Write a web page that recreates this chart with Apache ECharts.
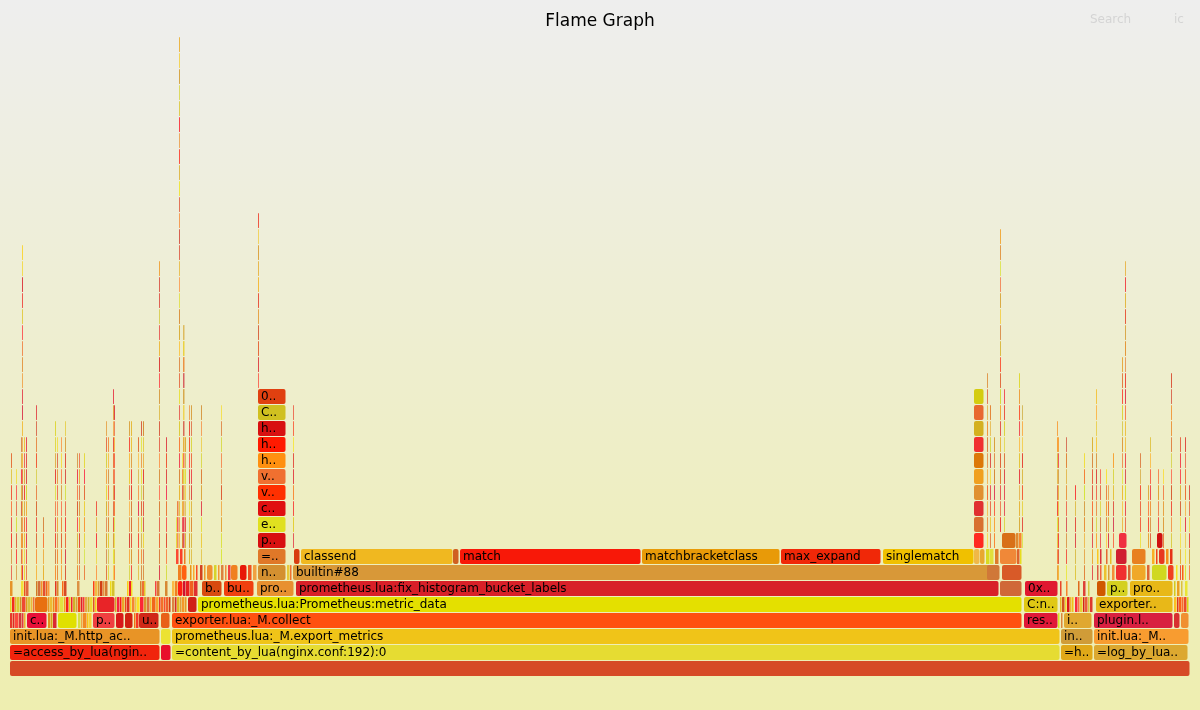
<!DOCTYPE html>
<html><head><meta charset="utf-8">
<script src="https://cdn.jsdelivr.net/npm/echarts@6/dist/echarts.min.js"></script>
<style>html,body{margin:0;padding:0;background:#eee}#c{width:1200px;height:710px}</style>
</head><body><div id="c"></div>
<script>
// Named / coloured frames: [label, startSample, widthSamples, depth]
const frames = [
  ["", 0, 1180, 0],
  ["=access_by_lua(ngin..", 0, 150, 1],
  ["", 151, 10, 1],
  ["=content_by_lua(nginx.conf:192):0", 162, 888, 1],
  ["=h..", 1051, 32, 1],
  ["=log_by_lua..", 1084, 94, 1],
  ["init.lua:_M.http_ac..", 0, 150, 2],
  ["", 151, 10, 2],
  ["prometheus.lua:_M.export_metrics", 162, 888, 2],
  ["in..", 1051, 32, 2],
  ["init.lua:_M..", 1084, 95, 2],
  ["c..", 17, 20, 3],
  ["", 48, 19, 3],
  ["p..", 83, 22, 3],
  ["", 106, 8, 3],
  ["", 115, 8, 3],
  ["u..", 129, 20, 3],
  ["", 151, 9, 3],
  ["exporter.lua:_M.collect", 162, 850, 3],
  ["res..", 1014, 34, 3],
  ["i..", 1054, 28, 3],
  ["plugin.l..", 1084, 79, 3],
  ["", 1164, 6, 3],
  ["", 1171, 8, 3],
  ["", 25, 13, 4],
  ["", 87, 18, 4],
  ["", 178, 9, 4],
  ["prometheus.lua:Prometheus:metric_data", 188, 824, 4],
  ["C:n..", 1014, 34, 4],
  ["exporter..", 1086, 77, 4],
  ["", 165, 3, 5],
  ["", 168, 5, 5],
  ["", 173, 3, 5],
  ["", 176, 4, 5],
  ["", 180, 4, 5],
  ["", 184, 4, 5],
  ["b..", 192, 20, 5],
  ["bu..", 214, 30, 5],
  ["pro..", 247, 37, 5],
  ["prometheus.lua:fix_histogram_bucket_labels", 286, 703, 5],
  ["", 990, 22, 5],
  ["0x..", 1015, 33, 5],
  ["", 1087, 9, 5],
  ["p..", 1097, 21, 5],
  ["pro..", 1120, 43, 5],
  ["", 168, 4, 6],
  ["", 172, 5, 6],
  ["", 197, 6, 6],
  ["", 221, 7, 6],
  ["", 230, 7, 6],
  ["", 238, 4, 6],
  ["", 243, 4, 6],
  ["n..", 248, 28, 6],
  ["", 277, 3, 6],
  ["", 280, 2, 6],
  ["builtin#88", 283, 703, 6],
  ["", 977, 13, 6],
  ["", 992, 20, 6],
  ["", 1106, 11, 6],
  ["", 1122, 14, 6],
  ["", 1142, 15, 6],
  ["", 1158, 6, 6],
  ["=..", 248, 28, 7],
  ["", 284, 6, 7],
  ["classend", 291, 152, 7],
  ["", 443, 6, 7],
  ["match", 450, 181, 7],
  ["matchbracketclass", 632, 138, 7],
  ["max_expand", 771, 100, 7],
  ["singlematch", 873, 91, 7],
  ["", 964, 6, 7],
  ["", 970, 5, 7],
  ["", 990, 17, 7],
  ["", 1106, 11, 7],
  ["", 1122, 14, 7],
  ["", 1149, 6, 7],
  ["p..", 248, 28, 8],
  ["", 964, 10, 8],
  ["", 992, 14, 8],
  ["", 1109, 8, 8],
  ["", 1147, 6, 8],
  ["e..", 248, 28, 9],
  ["c..", 248, 28, 10],
  ["v..", 248, 28, 11],
  ["v..", 248, 28, 12],
  ["h..", 248, 28, 13],
  ["h..", 248, 28, 14],
  ["h..", 248, 28, 15],
  ["C..", 248, 28, 16],
  ["0..", 248, 28, 17],
  ["", 964, 10, 9],
  ["", 964, 10, 10],
  ["", 964, 10, 11],
  ["", 964, 10, 12],
  ["", 964, 10, 13],
  ["", 964, 10, 14],
  ["", 964, 10, 15],
  ["", 964, 10, 16],
  ["", 964, 10, 17]
];
const frameColors = [
  "#d64a26",
  "#f0240c","#e8102a","#e6dc32","#e0a818","#dca830",
  "#e89426","#ece232","#f0c418","#d09c38","#f89c30",
  "#e81038","#e0e000","#f04040","#d81818","#d02010","#d02818","#e86018","#ff5010","#e01838","#e0a830","#d82040","#d83030","#f09030",
  "#e87010","#e82428","#d02018","#e4e000","#e0c814","#e8b818",
  "#f08020","#ff2010","#d01030","#e82020","#f06020","#e03030","#d84a10","#f04010","#e89030","#d82028","#d06838","#e01830","#d05800","#d4d020","#e8b818",
  "#f08020","#ff6010","#f09030","#f08020","#e81808","#f05020","#f0a040","#d49030","#e8c838","#f07030","#d89838","#d07838","#d85a28","#f03030","#f0a828","#d0d820","#f04020",
  "#e07828","#d83c10","#f0b820","#d06020","#f81808","#e89a08","#f02808","#f0c000","#f0b848","#e8a830","#f08838","#d02030","#e88020","#e83820",
  "#d81010","#ff2a20","#d87018","#f03040","#d01010",
  "#e0e020","#e01010","#ff3000","#f07030","#ff9010","#ff1a00","#d81010","#d0c020","#e04010",
  "#d87030","#e03030","#e09030","#f0a020","#dc7808","#f03030","#d4b020","#e86830","#d4cc10"
];
// Narrow unlabelled frames: [startSample, widthSamples, depth]
const smallFrames = [
  [0,3,3],[3,2,3],[5,4,3],[9,3,3],[12,2,3],[14,2,3],[38,3,3],[41,2,3],[43,4,3],
  [68,3,3],[71,2,3],[73,4,3],[77,2,3],[79,3,3],[124,2,3],[126,3,3],[1048,2,3],[1051,2,3],
  [0,2,4],[2,3,4],[5,2,4],[7,3,4],[10,2,4],[12,4,4],[16,2,4],[18,3,4],[21,2,4],[23,2,4],
  [38,2,4],[40,3,4],[43,2,4],[45,3,4],[48,2,4],[50,4,4],[54,2,4],[56,3,4],[59,2,4],[61,2,4],
  [63,3,4],[66,2,4],[68,3,4],[71,2,4],[73,2,4],[75,3,4],[78,2,4],[80,3,4],[83,2,4],[85,2,4],
  [105,2,4],[107,3,4],[110,2,4],[112,3,4],[115,2,4],[117,3,4],[120,2,4],[122,3,4],[125,2,4],
  [127,3,4],[130,4,4],[134,3,4],[137,3,4],[140,2,4],[142,4,4],[146,3,4],[149,2,4],[151,3,4],
  [154,2,4],[156,3,4],[159,2,4],[162,3,4],[165,2,4],[167,3,4],[170,2,4],[172,3,4],[175,2,4],
  [1050,2,4],[1052,3,4],[1055,2,4],[1057,3,4],[1060,2,4],[1062,2,4],[1065,3,4],[1068,2,4],
  [1070,3,4],[1073,2,4],[1075,3,4],[1078,2,4],[1080,3,4],
  [1164,3,4],[1167,2,4],[1169,3,4],[1172,2,4],[1174,3,4],[1177,2,4],
  [0,3,5],[11,3,5],[14,2,5],[16,3,5],[26,2,5],[28,3,5],[31,2,5],[33,3,5],[36,2,5],[38,2,5],
  [45,2,5],[47,2,5],[52,2,5],[54,3,5],[67,3,5],[83,2,5],[85,3,5],[88,2,5],[90,3,5],[93,2,5],
  [95,3,5],[100,2,5],[102,3,5],[117,2,5],[119,3,5],[121,2,5],[130,2,5],[132,3,5],[134,2,5],
  [145,2,5],[147,3,5],[155,3,5],[162,3,5],
  [1050,2,5],[1056,2,5],[1068,2,5],[1073,3,5],[1078,2,5],[1164,2,5],[1167,3,5],[1171,2,5],[1175,3,5],
  [180,2,6],[183,2,6],[186,2,6],[190,3,6],[194,2,6],[204,3,6],[208,2,6],[211,3,6],[215,2,6],[218,3,6],
  [1087,2,6],[1090,2,6],[1094,3,6],[1098,2,6],[1102,3,6],[1118,3,6],[1137,3,6],[1166,2,6],[1172,2,6],
  [166,3,7],[170,3,7],[174,2,7],[976,4,7],[980,4,7],[985,4,7],[1007,3,7],[1010,2,7],
  [1087,2,7],[1090,2,7],[1096,2,7],[1100,2,7],[1142,3,7],[1146,2,7],[1156,3,7],[1160,3,7],
  [1006,3,8],[1009,3,8]
];
// Thin stacks of frames: [startSample, widthSamples, fromDepth, toDepth]
const towers = [
  [1,1.5,6,13],[6,1.5,6,12],[11,1.5,6,14],[12,1.5,6,26],[14,1.5,6,14],[16,1.5,6,14],[26,1.5,6,16],
  [33,1.5,6,9],[45,1.5,6,15],[47,1.5,6,14],[51,1.5,6,14],[55,1.5,6,15],[67,1.5,6,13],[69,1.5,6,13],
  [74,1.5,6,13],[86,1.5,6,10],[96,1.5,6,15],[98,1.5,6,14],[103,1.5,6,17],[104,1.5,6,16],[119,1.5,6,15],
  [121,1.5,6,15],[128,1.5,6,14],[131,1.5,6,15],[133,1.5,6,15],[149,1.5,6,25],[156,1.5,6,14],
  [166,1.5,8,9],[167,2,8,10],[169,1.5,8,39],[172,1.5,8,13],[173,2,8,21],[175,1.5,8,14],
  [179,1.5,7,16],[181,1.5,7,16],[191,1.5,7,16],[211,1.5,7,16],[248,1.5,18,28],[283,1.5,8,16],
  [977,1.5,8,18],[980,1.5,8,16],[984,1.5,8,14],[990,1.5,9,27],[994,1.5,9,17],[1009,1.5,9,18],
  [1012,1.5,8,16],[1047,1.5,6,15],[1048,1.5,6,14],[1056,1.5,6,14],[1065,1.5,6,11],[1074,1.5,6,13],
  [1082,1.5,6,14],[1086,1.5,8,17],[1090,1.5,8,12],[1096,1.5,8,12],[1098,1.5,8,11],[1103,1.5,8,13],
  [1112,1.5,9,19],[1115,1.5,9,25],[1130,1.5,8,13],[1138,1.5,8,11],[1140,1.5,8,14],[1148,1.5,9,12],
  [1153,1.5,8,12],[1161,1.5,8,18],[1170,1.5,6,14],[1175,1.5,6,14],[1179,1.5,6,11]
];
const TOTAL = 1180, MAXDEPTH = 40;

// deterministic "hot" palette colour for unnamed narrow frames
function hot(a, b) {
  const f = (k) => { const h = Math.sin(a * 12.9898 + b * 78.233 + k * 37.719) * 43758.5453; return h - Math.floor(h); };
  const r = 205 + Math.round(50 * f(1)), g = Math.round(230 * f(2)), bl = Math.round(55 * f(3));
  return 'rgb(' + r + ',' + g + ',' + bl + ')';
}

const items = [];
frames.forEach((f, i) => items.push({ value: [f[1], f[2], f[3]], label: f[0], color: frameColors[i], op: 1 }));
smallFrames.forEach(f => items.push({ value: [f[0], f[1], f[2]], label: '', color: hot(f[0], f[2]), op: 0.9 }));
towers.forEach(t => { for (let d = t[2]; d <= t[3]; d++) items.push({ value: [t[0], t[1], d], label: '', color: hot(t[0] + 0.5, d), op: 0.72 }); });

function renderItem(params, api) {
  const it = items[params.dataIndex];
  const s = api.value(0), w = api.value(1), d = api.value(2);
  const a = api.coord([s, d + 1]);
  const b = api.coord([s + w, d]);
  const x = a[0], y = a[1];
  const width = Math.max(b[0] - a[0] - 0.5, 0.9), height = b[1] - a[1] - 1;
  const children = [{ type: 'rect', shape: { x: x, y: y, width: width, height: height, r: width > 4 ? 2 : 0.5 }, style: { fill: it.color, opacity: it.op } }];
  if (it.label) children.push({ type: 'text', style: { text: it.label, x: x + 3, y: y + height / 2 + 0.5, verticalAlign: 'middle', fill: '#000', font: '12px "DejaVu Sans", Verdana, sans-serif' } });
  return { type: 'group', children: children };
}

const chart = echarts.init(document.getElementById('c'), null, { renderer: 'canvas' });
chart.setOption({
  animation: false,
  backgroundColor: new echarts.graphic.LinearGradient(0, 0, 0, 1, [{ offset: 0, color: '#eeeeee' }, { offset: 1, color: '#eeeeb0' }]),
  title: { text: 'Flame Graph', left: 'center', top: 8, textStyle: { fontSize: 17, fontWeight: 'normal', color: '#000', fontFamily: 'DejaVu Sans' } },
  graphic: [
    { type: 'text', left: 1090, top: 14, style: { text: 'Search', fill: '#d4d4d4', font: '12px "DejaVu Sans"' } },
    { type: 'text', left: 1174, top: 14, style: { text: 'ic', fill: '#d4d4d4', font: '12px "DejaVu Sans"' } }
  ],
  grid: { left: 10, right: 10, top: 37, bottom: 33 },
  xAxis: { type: 'value', min: 0, max: TOTAL, show: false },
  yAxis: { type: 'value', min: 0, max: MAXDEPTH, show: false },
  series: [{ type: 'custom', renderItem: renderItem, data: items.map(it => it.value), clip: false, silent: true }]
});
</script></body></html>
